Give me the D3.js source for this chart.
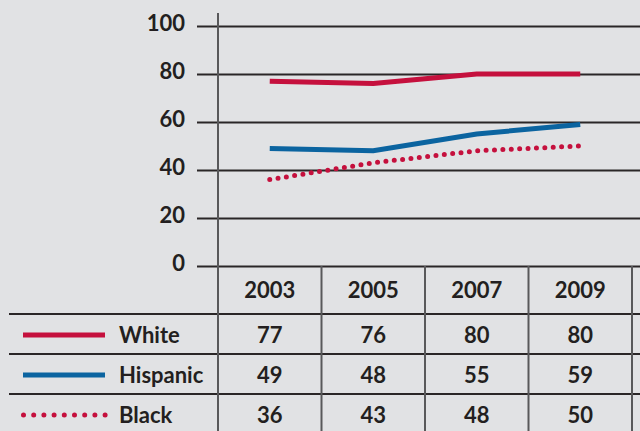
<!DOCTYPE html>
<html><head><meta charset="utf-8">
<script src="https://cdn.jsdelivr.net/npm/d3@7/dist/d3.min.js"></script>
<style>
html,body{margin:0;padding:0;background:#e1e2e4;}
svg{display:block;}
text{font-family:Lato,"Open Sans",sans-serif;font-weight:700;fill:#231f20;}
</style></head>
<body>
<svg id="c" width="640" height="431"></svg>
<script>
const years = ["2003","2005","2007","2009"];
const seriesNames = ["White","Hispanic","Black"];
const white = [77,76,80,80];
const hispanic = [49,48,55,59];
const black = [36,43,48,50];
const yTicks = [0,20,40,60,80,100];

const series = [
  {name: seriesNames[0], values: white, color: "#c5103d", dotted: false},
  {name: seriesNames[1], values: hispanic, color: "#0b64a0", dotted: false},
  {name: seriesNames[2], values: black, color: "#c5103d", dotted: true}
];

const W = 640, H = 431;
const svg = d3.select("#c");
svg.append("rect").attr("width",W).attr("height",H).attr("fill","#e1e2e4");

const x = d3.scaleBand().domain(years).range([218, 632]).padding(0);
const y = d3.scaleLinear().domain([0,100]).range([266, 26]);

const fontSize = 22;

// y axis with gridlines
const yAxis = d3.axisLeft(y).tickValues(yTicks).tickSize(-(W - 197)).tickPadding(12).tickFormat(d3.format("d"));
const ga = svg.append("g").attr("transform","translate(197,0)").call(yAxis);
ga.select(".domain").remove();
ga.selectAll(".tick line").attr("stroke","#2a2627").attr("stroke-width",2);
ga.selectAll(".tick text").attr("font-size",fontSize).attr("dy","0.28em").attr("y",-2)
  .style("font-family","Lato,'Open Sans',sans-serif").style("font-weight",700).attr("fill","#231f20");

// table rows
const headerTop = 266, headerBottom = 314, rowH = 40;
const rowLines = [headerBottom, headerBottom + rowH, headerBottom + 2*rowH];
svg.selectAll("line.row").data(rowLines).join("line").attr("class","row")
  .attr("x1",9).attr("x2",W).attr("y1",d=>d).attr("y2",d=>d)
  .attr("stroke","#2a2627").attr("stroke-width",2);

// vertical separators
svg.append("line").attr("x1",218).attr("x2",218).attr("y1",13).attr("y2",H)
  .attr("stroke","#58585a").attr("stroke-width",2);
svg.selectAll("line.col").data(years.slice(1).map(v=>x(v)).concat([x(years[years.length-1])+x.bandwidth()]))
  .join("line").attr("class","col")
  .attr("x1",d=>d).attr("x2",d=>d).attr("y1",headerTop).attr("y2",H)
  .attr("stroke","#58585a").attr("stroke-width",2);

// header labels
svg.selectAll("text.yr").data(years).join("text").attr("class","yr")
  .attr("x",d=>x(d)+x.bandwidth()/2).attr("y",(headerTop+headerBottom)/2)
  .attr("dy","0.36em").attr("text-anchor","middle").attr("font-size",fontSize).text(d=>d);

// lines
const line = d3.line().x((d,i)=>x(years[i])+x.bandwidth()/2).y(d=>y(d));
series.forEach((s, si) => {
  const p = svg.append("path").datum(s.values).attr("d", line)
    .attr("fill","none").attr("stroke", s.color);
  if (s.dotted) {
    p.attr("stroke-width",5).attr("stroke-linecap","round").attr("stroke-dasharray","0 8.4");
  } else {
    p.attr("stroke-width",5).attr("stroke-linejoin","miter");
  }
  const cy = headerBottom + rowH*si + rowH/2 + 1;
  // legend line
  const lg = svg.append("line").attr("x1",23).attr("x2",105).attr("y1",cy).attr("y2",cy)
    .attr("stroke", s.color);
  if (s.dotted) {
    lg.attr("x1",23.5).attr("x2",106).attr("stroke-width",5).attr("stroke-linecap","round").attr("stroke-dasharray","0 10.2");
  } else {
    lg.attr("stroke-width",5);
  }
  svg.append("text").attr("x",119).attr("y",cy).attr("dy","0.36em")
    .attr("font-size",fontSize).text(s.name);
  svg.selectAll("text.v"+si).data(s.values).join("text").attr("class","v"+si)
    .attr("x",(d,i)=>x(years[i])+x.bandwidth()/2).attr("y",cy).attr("dy","0.36em")
    .attr("text-anchor","middle").attr("font-size",fontSize).text(d=>d);
});
</script>
</body></html>
